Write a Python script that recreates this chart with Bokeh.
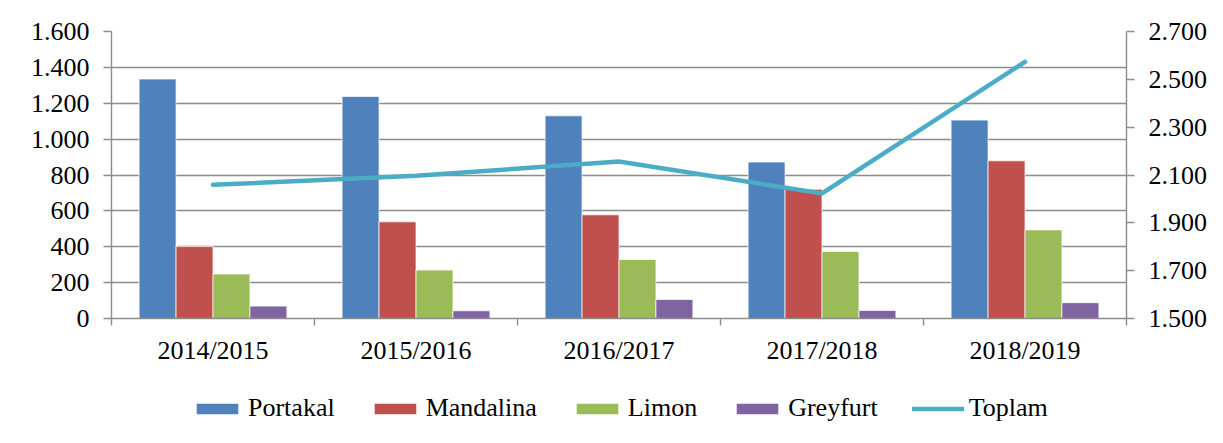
from bokeh.plotting import figure
from bokeh.layouts import column
from bokeh.models import ColumnDataSource, Range1d, LinearAxis, FixedTicker, Legend, LegendItem
from bokeh.transform import dodge
from bokeh.embed import file_html
from bokeh.resources import INLINE

# ---- data ----
seasons = ["2014/2015", "2015/2016", "2016/2017", "2017/2018", "2018/2019"]
portakal = [1335, 1238, 1130, 872, 1106]
mandalina = [401, 539, 578, 721, 879]
limon = [248, 270, 329, 374, 494]
greyfurt = [69, 43, 106, 45, 88]
toplam = [2059, 2097, 2156, 2023, 2573]
left_ticks = [0, 200, 400, 600, 800, 1000, 1200, 1400, 1600]
right_ticks = [1500, 1700, 1900, 2100, 2300, 2500, 2700]

FONT = "Liberation Serif"
FS = "26px"
GRID = "#8c8c8c"
W = 1215

n = len(seasons)
xc = [i + 0.5 for i in range(n)]
src = ColumnDataSource(dict(x=xc, portakal=portakal, mandalina=mandalina,
                            limon=limon, greyfurt=greyfurt, toplam=toplam))

p = figure(width=W, height=378, output_backend="svg", toolbar_location=None,
           x_range=Range1d(0, n), y_range=Range1d(left_ticks[0], left_ticks[-1]),
           min_border_left=111, min_border_right=89, min_border_top=31,
           min_border_bottom=60, outline_line_color=None,
           background_fill_color="white", border_fill_color="white")
p.extra_y_ranges = {"right": Range1d(right_ticks[0], right_ticks[-1])}

# grid
p.xgrid.visible = False
p.ygrid.ticker = FixedTicker(ticks=left_ticks)
p.ygrid.grid_line_color = GRID
p.ygrid.grid_line_width = 1.4

# x axis
xa = p.xaxis[0]
xa.ticker = FixedTicker(ticks=xc, minor_ticks=list(range(n + 1)))
xa.major_label_overrides = {x: s for x, s in zip(xc, seasons)}
xa.major_tick_out = 0
xa.major_tick_in = 0
xa.minor_tick_out = 7
xa.minor_tick_in = 0
xa.minor_tick_line_color = GRID
xa.minor_tick_line_width = 1.4
xa.axis_line_color = GRID
xa.axis_line_width = 1.4
xa.major_label_text_font = FONT
xa.major_label_text_font_size = FS
xa.major_label_text_color = "black"
xa.major_label_standoff = 10

def fmt(t):
    return f"{t:,}".replace(",", ".")

ya = p.yaxis[0]
ya.ticker = FixedTicker(ticks=left_ticks)
ya.major_label_overrides = {t: fmt(t) for t in left_ticks}

yr = LinearAxis(y_range_name="right", ticker=FixedTicker(ticks=right_ticks))
yr.major_label_overrides = {t: fmt(t) for t in right_ticks}
p.add_layout(yr, "right")

for ax in (ya, yr):
    ax.major_tick_out = 8
    ax.major_tick_in = 0
    ax.minor_tick_out = 0
    ax.minor_tick_in = 0
    ax.major_tick_line_color = GRID
    ax.major_tick_line_width = 1.4
    ax.axis_line_color = GRID
    ax.axis_line_width = 1.4
    ax.major_label_text_font = FONT
    ax.major_label_text_font_size = FS
    ax.major_label_text_color = "black"
    ax.major_label_standoff = 14

# bars
bw = 0.182
series = [("Portakal", "portakal", "#4F81BD"),
          ("Mandalina", "mandalina", "#C0504D"),
          ("Limon", "limon", "#9BBB59"),
          ("Greyfurt", "greyfurt", "#8064A2")]
LINE_COLOR = "#4BACC6"
for k, (label, col, color) in enumerate(series):
    off = (k - 1.5) * bw
    p.vbar(x=dodge("x", off), top=col, width=bw, bottom=0, source=src,
           fill_color=color, line_color="white", line_alpha=0.7, line_width=1)

p.line("x", "toplam", source=src, y_range_name="right",
       line_color=LINE_COLOR, line_width=4.5, line_cap="round", line_join="miter")

# ---- legend strip (separate figure, legend proxies kept outside its range) ----
q = figure(width=W, height=57, output_backend="svg", toolbar_location=None,
           x_range=Range1d(0, 1), y_range=Range1d(0, 1),
           min_border_left=111, min_border_right=89, min_border_top=0,
           min_border_bottom=0, outline_line_color=None,
           background_fill_color="white", border_fill_color="white")
q.axis.visible = False
q.grid.visible = False
items = []
for label, col, color in series:
    r = q.vbar(x=[-5], top=[-5], bottom=[-6], width=0.1, fill_color=color, line_color=None)
    items.append(LegendItem(label=label, renderers=[r]))
r = q.line(x=[-5, -4], y=[-5, -5], line_color=LINE_COLOR, line_width=4.5, line_cap="round")
items.append(LegendItem(label="Toplam", renderers=[r]))

legend = Legend(items=items, orientation="horizontal", location=(80, 12),
                glyph_width=52, glyph_height=13, label_standoff=5, spacing=34,
                padding=0, margin=0, border_line_color=None,
                background_fill_alpha=0, label_text_font=FONT,
                label_text_font_size=FS, label_text_color="black", label_height=30)
q.add_layout(legend, "center")

open("out.html", "w").write(file_html(column(p, q, spacing=0), INLINE))
